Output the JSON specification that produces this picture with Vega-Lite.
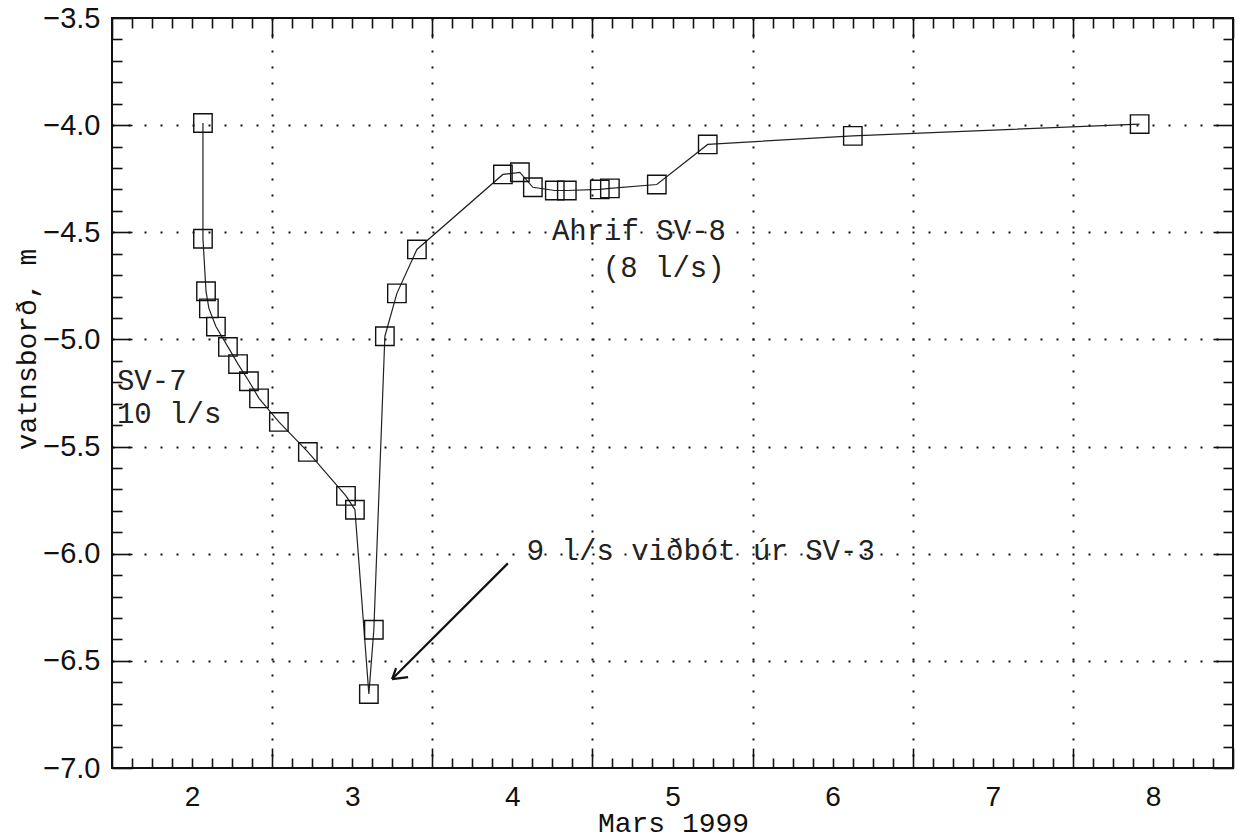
{
  "$schema": "https://vega.github.io/schema/vega-lite/v6.json",
  "width": 1121,
  "height": 750,
  "autosize": {"type": "none"},
  "padding": {"left": 112, "top": 18, "right": 10, "bottom": 72},
  "background": "white",
  "config": {
    "view": {"stroke": "#111", "strokeWidth": 2},
    "axis": {"domain": false, "tickColor": "#111", "tickWidth": 1.6, "labelColor": "#111", "titleColor": "#111"}
  },
  "datasets": {
    "obs": [
      {"dag": 2.568, "vatnsbord": -3.99},
      {"dag": 2.568, "vatnsbord": -4.53},
      {"dag": 2.587, "vatnsbord": -4.775},
      {"dag": 2.605, "vatnsbord": -4.855},
      {"dag": 2.649, "vatnsbord": -4.94},
      {"dag": 2.724, "vatnsbord": -5.035},
      {"dag": 2.787, "vatnsbord": -5.115},
      {"dag": 2.855, "vatnsbord": -5.195},
      {"dag": 2.918, "vatnsbord": -5.275},
      {"dag": 3.042, "vatnsbord": -5.385},
      {"dag": 3.223, "vatnsbord": -5.525},
      {"dag": 3.461, "vatnsbord": -5.73},
      {"dag": 3.517, "vatnsbord": -5.795},
      {"dag": 3.604, "vatnsbord": -6.655},
      {"dag": 3.635, "vatnsbord": -6.355},
      {"dag": 3.704, "vatnsbord": -4.985},
      {"dag": 3.779, "vatnsbord": -4.785},
      {"dag": 3.904, "vatnsbord": -4.58},
      {"dag": 4.441, "vatnsbord": -4.23},
      {"dag": 4.547, "vatnsbord": -4.22},
      {"dag": 4.628, "vatnsbord": -4.29},
      {"dag": 4.765, "vatnsbord": -4.305},
      {"dag": 4.840, "vatnsbord": -4.305},
      {"dag": 5.046, "vatnsbord": -4.30},
      {"dag": 5.109, "vatnsbord": -4.295},
      {"dag": 5.402, "vatnsbord": -4.277},
      {"dag": 5.720, "vatnsbord": -4.09},
      {"dag": 6.626, "vatnsbord": -4.05},
      {"dag": 8.417, "vatnsbord": -3.995}
    ],
    "notes": [
      {"dag": 4.747, "vatnsbord": -4.538, "texti": "Ahrif SV-8"},
      {"dag": 5.065, "vatnsbord": -4.71, "texti": "(8 l/s)"},
      {"dag": 2.031, "vatnsbord": -5.235, "texti": "SV-7"},
      {"dag": 2.031, "vatnsbord": -5.39, "texti": "10 l/s"},
      {"dag": 4.59, "vatnsbord": -6.031, "texti": "9 l/s viðbót úr SV-3"}
    ],
    "arrow": [
      {"x1": 4.472, "y1": -6.045, "x2": 3.749, "y2": -6.585},
      {"x1": 3.749, "y1": -6.585, "x2": 3.774, "y2": -6.534},
      {"x1": 3.749, "y1": -6.585, "x2": 3.849, "y2": -6.576}
    ]
  },
  "layer": [
    {
      "data": {"name": "obs"},
      "mark": {"type": "line", "color": "#222", "strokeWidth": 1.2},
      "encoding": {
        "x": {
          "field": "dag", "type": "quantitative",
          "scale": {"domain": [2, 9], "nice": false, "zero": false},
          "axis": {
            "orient": "bottom", "title": null, "labels": false,
            "values": [2, 2.125, 2.25, 2.375, 2.5, 2.625, 2.75, 2.875, 3, 3.125, 3.25, 3.375, 3.5, 3.625, 3.75, 3.875, 4, 4.125, 4.25, 4.375, 4.5, 4.625, 4.75, 4.875, 5, 5.125, 5.25, 5.375, 5.5, 5.625, 5.75, 5.875, 6, 6.125, 6.25, 6.375, 6.5, 6.625, 6.75, 6.875, 7, 7.125, 7.25, 7.375, 7.5, 7.625, 7.75, 7.875, 8, 8.125, 8.25, 8.375, 8.5, 8.625, 8.75, 8.875, 9],
            "tickSize": {"condition": {"test": "datum.value % 1 === 0", "value": -20}, "value": -10},
            "grid": true, "gridColor": "#111", "gridWidth": 2, "gridDash": [2, 14],
            "gridOpacity": {"condition": {"test": "datum.value % 1 === 0 && datum.value > 2 && datum.value < 9", "value": 1}, "value": 0}
          }
        },
        "y": {
          "field": "vatnsbord", "type": "quantitative",
          "scale": {"domain": [-7, -3.5], "nice": false, "zero": false},
          "axis": {
            "orient": "left", "title": null, "labels": false,
            "values": [-7.0, -6.9, -6.8, -6.7, -6.6, -6.5, -6.4, -6.3, -6.2, -6.1, -6.0, -5.9, -5.8, -5.7, -5.6, -5.5, -5.4, -5.3, -5.2, -5.1, -5.0, -4.9, -4.8, -4.7, -4.6, -4.5, -4.4, -4.3, -4.2, -4.1, -4.0, -3.9, -3.8, -3.7, -3.6, -3.5],
            "tickSize": {"condition": {"test": "abs(datum.value*2 - round(datum.value*2)) < 0.000001", "value": -20}, "value": -10},
            "grid": true, "gridColor": "#111", "gridWidth": 2, "gridDash": [2, 14],
            "gridOpacity": {"condition": {"test": "abs(datum.value*2 - round(datum.value*2)) < 0.000001 && datum.value > -6.9 && datum.value < -3.6", "value": 1}, "value": 0}
          }
        }
      }
    },
    {
      "data": {"name": "obs"},
      "mark": {"type": "point", "shape": "square", "size": 340, "filled": false, "color": "#111", "strokeWidth": 1.4, "opacity": 1},
      "encoding": {
        "x": {
          "field": "dag", "type": "quantitative",
          "axis": {
            "orient": "top", "title": null, "labels": false, "grid": false,
            "values": [2, 2.125, 2.25, 2.375, 2.5, 2.625, 2.75, 2.875, 3, 3.125, 3.25, 3.375, 3.5, 3.625, 3.75, 3.875, 4, 4.125, 4.25, 4.375, 4.5, 4.625, 4.75, 4.875, 5, 5.125, 5.25, 5.375, 5.5, 5.625, 5.75, 5.875, 6, 6.125, 6.25, 6.375, 6.5, 6.625, 6.75, 6.875, 7, 7.125, 7.25, 7.375, 7.5, 7.625, 7.75, 7.875, 8, 8.125, 8.25, 8.375, 8.5, 8.625, 8.75, 8.875, 9],
            "tickSize": {"condition": {"test": "datum.value % 1 === 0", "value": -20}, "value": -10}
          }
        },
        "y": {
          "field": "vatnsbord", "type": "quantitative",
          "axis": {
            "orient": "right", "title": null, "labels": false, "grid": false,
            "values": [-7.0, -6.9, -6.8, -6.7, -6.6, -6.5, -6.4, -6.3, -6.2, -6.1, -6.0, -5.9, -5.8, -5.7, -5.6, -5.5, -5.4, -5.3, -5.2, -5.1, -5.0, -4.9, -4.8, -4.7, -4.6, -4.5, -4.4, -4.3, -4.2, -4.1, -4.0, -3.9, -3.8, -3.7, -3.6, -3.5],
            "tickSize": {"condition": {"test": "abs(datum.value*2 - round(datum.value*2)) < 0.000001", "value": -20}, "value": -10}
          }
        }
      }
    },
    {
      "data": {"name": "notes"},
      "mark": {"type": "text", "align": "left", "baseline": "alphabetic", "font": "Liberation Mono", "fontSize": 29, "color": "#222"},
      "encoding": {
        "x": {
          "field": "dag", "type": "quantitative",
          "axis": {
            "orient": "bottom", "ticks": false, "grid": false,
            "values": [2.5, 3.5, 4.5, 5.5, 6.5, 7.5, 8.5],
            "labelExpr": "'' + floor(datum.value)",
            "labelFont": "Liberation Sans", "labelFontSize": 28, "labelPadding": 15, "labelFlush": false,
            "title": "Mars 1999", "titleFont": "Liberation Mono", "titleFontSize": 28, "titleFontWeight": "normal",
            "titleBaseline": "alphabetic", "titleX": 561, "titleY": 63, "titleAlign": "center"
          }
        },
        "y": {
          "field": "vatnsbord", "type": "quantitative",
          "axis": {
            "orient": "left", "ticks": false, "grid": false,
            "values": [-7.0, -6.5, -6.0, -5.5, -5.0, -4.5, -4.0, -3.5],
            "format": ".1f",
            "labelFont": "Liberation Sans", "labelFontSize": 29, "labelPadding": 12,
            "title": "vatnsborð, m", "titleFont": "Liberation Mono", "titleFontSize": 28, "titleFontWeight": "normal",
            "titleAngle": 270, "titleBaseline": "alphabetic", "titleX": -77, "titleY": 331, "titleAlign": "center"
          }
        },
        "text": {"field": "texti", "type": "nominal"}
      }
    },
    {
      "data": {"name": "arrow"},
      "mark": {"type": "rule", "color": "#111", "strokeWidth": 2.2},
      "encoding": {
        "x": {"field": "x1", "type": "quantitative", "axis": null},
        "y": {"field": "y1", "type": "quantitative", "axis": null},
        "x2": {"field": "x2"},
        "y2": {"field": "y2"}
      }
    }
  ],
  "resolve": {"axis": {"x": "independent", "y": "independent"}}
}
